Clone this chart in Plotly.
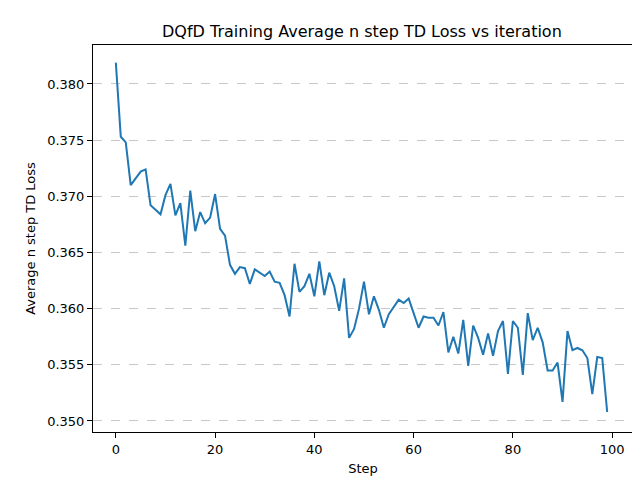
import plotly.graph_objects as go

steps = list(range(100))
loss = [
    0.3819, 0.3753, 0.3748, 0.3710, 0.3716, 0.3722, 0.3724, 0.3692, 0.3688, 0.3684,
    0.3701, 0.3711, 0.3683, 0.3694, 0.3656, 0.3705, 0.3669, 0.3686, 0.3676, 0.3681,
    0.3702, 0.3671, 0.3665, 0.3639, 0.3631, 0.3637, 0.3636, 0.3622, 0.3635, 0.3632,
    0.3629, 0.3633, 0.3624, 0.3623, 0.3612, 0.3593, 0.3640, 0.3615, 0.3620, 0.3631,
    0.3611, 0.3642, 0.3612, 0.3632, 0.3620, 0.3598, 0.3627, 0.3574, 0.3582, 0.3600,
    0.3624, 0.3595, 0.3611, 0.3599, 0.3583, 0.3595, 0.3601, 0.3608, 0.3605, 0.3609,
    0.3596, 0.3583, 0.3593, 0.3592, 0.3592, 0.3585, 0.3597, 0.3561, 0.3575, 0.3560,
    0.3590, 0.3549, 0.3585, 0.3574, 0.3559, 0.3578, 0.3558, 0.3580, 0.3589, 0.3542,
    0.3589, 0.3583, 0.3541, 0.3596, 0.3572, 0.3583, 0.3570, 0.3545, 0.3545, 0.3552,
    0.3517, 0.3580, 0.3563, 0.3565, 0.3563, 0.3556, 0.3524, 0.3557, 0.3556, 0.3508,
]

fig = go.Figure(go.Scatter(x=steps, y=loss, mode="lines",
                           line=dict(color="#1f77b4", width=2)))

axis_common = dict(showline=True, linecolor="black", linewidth=1, mirror=True,
                   ticks="outside", ticklen=5, tickcolor="black", zeroline=False,
                   automargin=False, tickfont=dict(size=13, color="black"))
fig.update_xaxes(range=[-4.6, 104.2], tickvals=[0, 20, 40, 60, 80, 100],
                 showgrid=False, title=dict(text="Step", standoff=8,
                                            font=dict(size=13, color="black")),
                 **axis_common)
fig.update_yaxes(range=[0.34902, 0.38347], tickformat=".3f", dtick=0.005,
                 showgrid=True, gridcolor="#c8c8c8", griddash="dash", gridwidth=1,
                 title=dict(text="Average n step TD Loss", standoff=8,
                            font=dict(size=13, color="black")),
                 **axis_common)
fig.update_layout(
    width=640, height=480,
    margin=dict(l=85, r=15, t=37, b=56, autoexpand=False),
    plot_bgcolor="white", paper_bgcolor="white",
    font=dict(family="DejaVu Sans", color="black"),
    title=dict(text="DQfD Training Average n step TD Loss vs iteration",
               x=0.553, xanchor="center", y=0.952, yanchor="middle",
               font=dict(size=16, color="black")),
    showlegend=False,
)
fig.write_html("out.html")
